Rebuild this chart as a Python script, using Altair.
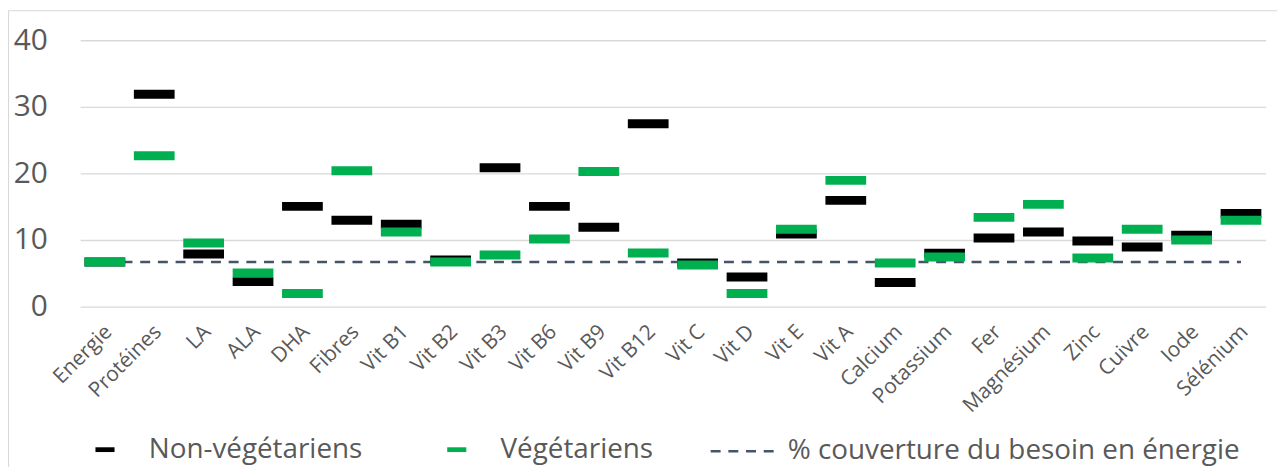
import altair as alt
import pandas as pd

categories = ["Energie", "Protéines", "LA", "ALA", "DHA", "Fibres", "Vit B1", "Vit B2",
              "Vit B3", "Vit B6", "Vit B9", "Vit B12", "Vit C", "Vit D", "Vit E", "Vit A",
              "Calcium", "Potassium", "Fer", "Magnésium", "Zinc", "Cuivre", "Iode", "Sélénium"]
non_veg = [6.7, 31.9, 7.9, 3.75, 15.05, 12.95, 12.35, 7.0, 20.85, 15.05, 11.9, 27.45,
           6.55, 4.45, 10.9, 15.95, 3.6, 8.0, 10.3, 11.2, 9.85, 8.95, 10.7, 14.0]
veg = [6.7, 22.65, 9.55, 5.05, 1.95, 20.4, 11.2, 6.7, 7.75, 10.15, 20.3, 8.05,
       6.25, 1.95, 11.6, 18.95, 6.55, 7.45, 13.4, 15.35, 7.3, 11.6, 10.0, 12.95]
energy_cover = [6.7, 6.7, 6.7, 6.7, 6.7, 6.7, 6.7, 6.7, 6.7, 6.7, 6.7, 6.7,
                6.7, 6.7, 6.7, 6.7, 6.7, 6.7, 6.7, 6.7, 6.7, 6.7, 6.7, 6.7]
series = ["Non-végétariens", "Végétariens"]
series_colors = ["#000000", "#00B050"]
line_label = "% couverture du besoin en énergie"
y_ticks = [0, 10, 20, 30, 40]

rows = []
for name, vals in zip(series, [non_veg, veg]):
    for c, v in zip(categories, vals):
        rows.append({"nutriment": c, "groupe": name, "valeur": v})
markers = pd.DataFrame(rows)
line_df = pd.DataFrame({"nutriment": categories, "valeur": energy_cover,
                        "serie": [line_label] * len(categories)})

FONT = "Open Sans"
TXT = "#595959"
W, H = 1193, 268

x_enc = alt.X("nutriment:N", sort=categories,
              scale=alt.Scale(paddingInner=0, paddingOuter=0),
              axis=alt.Axis(title=None, labelAngle=-45, labelAlign="right",
                            labelBaseline="middle", labelFontSize=21, labelFont=FONT,
                            labelColor=TXT, labelPadding=22, labelOffset=4, ticks=False,
                            domain=False, grid=False))
y_enc = alt.Y("valeur:Q", scale=alt.Scale(domain=[0, 40], nice=False),
              axis=alt.Axis(title=None, values=y_ticks, labelFontSize=30, labelFont=FONT,
                            labelColor=TXT, labelPadding=33, ticks=False, domain=False,
                            grid=True, gridColor="#d9d9d9", gridWidth=1.3))

frame = alt.Chart(alt.Data(values=[{"k": 1}])).mark_rect(
    fillOpacity=0, stroke="#d9d9d9", strokeWidth=1.2, clip=False
).encode(x=alt.value(-72.1), x2=alt.value(W + 200), y=alt.value(-29.7), y2=alt.value(H + 400))

line = alt.Chart(line_df).mark_line(color="#44546A", strokeWidth=2.5).encode(
    x=x_enc, y=y_enc,
    strokeDash=alt.StrokeDash("serie:N", scale=alt.Scale(domain=[line_label], range=[[10, 7.8]]),
                              legend=alt.Legend(orient="none", legendX=633, legendY=380,
                                                title=None, symbolType="stroke", symbolSize=4096,
                                                symbolStrokeColor="#44546A", symbolStrokeWidth=2.5,
                                                labelFontSize=28, labelFont=FONT, labelColor=TXT,
                                                labelOffset=12, labelLimit=0, padding=0))
)

ticks = alt.Chart(markers).mark_tick(size=41, thickness=9, opacity=1).encode(
    x=x_enc, y=y_enc,
    color=alt.Color("groupe:N", scale=alt.Scale(domain=series, range=series_colors),
                    legend=alt.Legend(orient="none", legendX=-7, legendY=380, direction="horizontal",
                                      title=None, symbolType="M-0.3,-0.075H0.3V0.075H-0.3Z",
                                      symbolSize=4096, symbolStrokeWidth=0, symbolOpacity=1,
                                      labelFontSize=28, labelFont=FONT, labelColor=TXT,
                                      labelOffset=12, labelLimit=0, columnPadding=62, padding=0))
)

chart = alt.layer(frame, line, ticks).properties(
    width=W, height=H,
    padding={"left": 72.6, "top": 31, "right": 11.4, "bottom": 160},
    autosize=alt.AutoSizeParams(type="none"),
    background="white",
).configure_view(stroke=None)

chart.save("out.html", embed_options={"renderer": "svg", "actions": False})
